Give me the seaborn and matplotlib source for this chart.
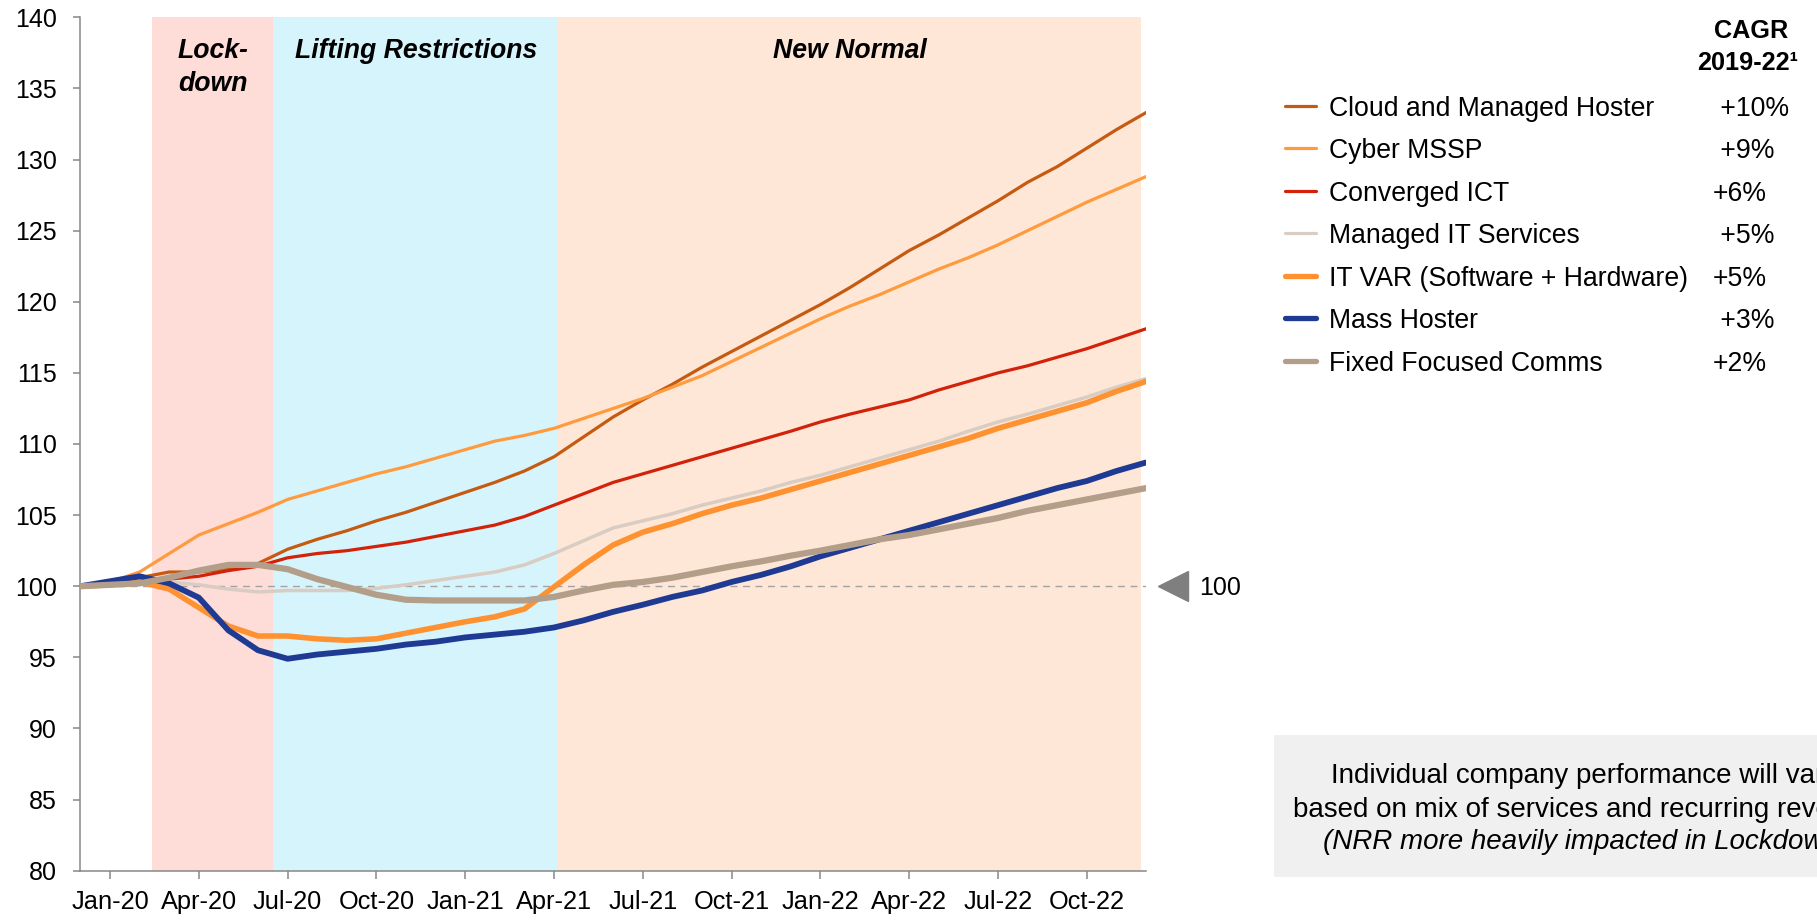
import matplotlib
matplotlib.use("Agg")
import matplotlib.pyplot as plt
import numpy as np
import pandas as pd
import seaborn as sns
from matplotlib.lines import Line2D
from matplotlib.patches import Rectangle

# ---------------------------------------------------------------- data
# Monthly index (Dec-19 = 0 ... Dec-22 = 36), rebased to 100
month_index = list(range(37))
tick_positions = [1, 4, 7, 10, 13, 16, 19, 22, 25, 28, 31, 34]
tick_labels = ["Jan-20", "Apr-20", "Jul-20", "Oct-20", "Jan-21", "Apr-21",
               "Jul-21", "Oct-21", "Jan-22", "Apr-22", "Jul-22", "Oct-22"]
y_ticks = [80, 85, 90, 95, 100, 105, 110, 115, 120, 125, 130, 135, 140]

series_names = ["Cloud and Managed Hoster", "Cyber MSSP", "Converged ICT",
                "Managed IT Services", "IT VAR (Software + Hardware)",
                "Mass Hoster", "Fixed Focused Comms"]
cagr_labels = [" +10%", " +9%", "+6%", " +5%", "+5%", " +3%", "+2%"]

cloud_managed_hoster = [100.0, 100.2, 100.6, 101.0, 101.0, 101.2, 101.6, 102.6, 103.3, 103.9,
                        104.6, 105.2, 105.9, 106.6, 107.3, 108.1, 109.1, 110.5, 111.9, 113.1,
                        114.2, 115.4, 116.5, 117.6, 118.7, 119.8, 121.0, 122.3, 123.6, 124.7,
                        125.9, 127.1, 128.4, 129.5, 130.8, 132.1, 133.3]
cyber_mssp = [100.0, 100.3, 101.0, 102.3, 103.6, 104.4, 105.2, 106.1, 106.7, 107.3,
              107.9, 108.4, 109.0, 109.6, 110.2, 110.6, 111.1, 111.8, 112.5, 113.2,
              114.0, 114.8, 115.8, 116.8, 117.8, 118.8, 119.7, 120.5, 121.4, 122.3,
              123.1, 124.0, 125.0, 126.0, 127.0, 127.9, 128.8]
converged_ict = [100.0, 100.1, 100.3, 100.5, 100.7, 101.1, 101.4, 102.0, 102.3, 102.5,
                 102.8, 103.1, 103.5, 103.9, 104.3, 104.9, 105.7, 106.5, 107.3, 107.9,
                 108.5, 109.1, 109.7, 110.3, 110.9, 111.55, 112.1, 112.6, 113.1, 113.8,
                 114.4, 115.0, 115.5, 116.1, 116.7, 117.4, 118.1]
managed_it_services = [100.0, 100.1, 100.2, 100.3, 100.1, 99.8, 99.6, 99.7, 99.7, 99.7,
                       99.85, 100.1, 100.4, 100.7, 101.0, 101.5, 102.3, 103.2, 104.1, 104.6,
                       105.1, 105.7, 106.2, 106.7, 107.3, 107.8, 108.4, 109.0, 109.6, 110.2,
                       110.9, 111.55, 112.1, 112.7, 113.3, 114.0, 114.6]
it_var = [100.0, 100.1, 100.3, 99.8, 98.5, 97.2, 96.5, 96.5, 96.3, 96.2,
          96.3, 96.7, 97.1, 97.5, 97.85, 98.4, 99.95, 101.5, 102.9, 103.8,
          104.4, 105.1, 105.7, 106.2, 106.8, 107.4, 108.0, 108.6, 109.2, 109.8,
          110.4, 111.1, 111.7, 112.3, 112.9, 113.7, 114.4]
mass_hoster = [100.0, 100.35, 100.7, 100.2, 99.2, 96.9, 95.5, 94.9, 95.2, 95.4,
               95.6, 95.9, 96.1, 96.4, 96.6, 96.8, 97.1, 97.6, 98.2, 98.7,
               99.25, 99.7, 100.3, 100.8, 101.4, 102.1, 102.7, 103.3, 103.9, 104.5,
               105.1, 105.7, 106.3, 106.9, 107.4, 108.1, 108.7]
fixed_focused_comms = [100.0, 100.1, 100.2, 100.6, 101.1, 101.5, 101.5, 101.2, 100.5, 99.95,
                       99.4, 99.05, 99.0, 99.0, 99.0, 99.0, 99.25, 99.7, 100.1, 100.3,
                       100.6, 101.0, 101.4, 101.75, 102.15, 102.5, 102.9, 103.3, 103.6, 104.0,
                       104.4, 104.8, 105.3, 105.7, 106.1, 106.5, 106.9]

series_values = [cloud_managed_hoster, cyber_mssp, converged_ict, managed_it_services,
                 it_var, mass_hoster, fixed_focused_comms]

# COVID phases (month-index spans)
phases = [("Lockdown", 2.43, 6.52, "#FEDCD8"),
          ("Lifting Restrictions", 6.52, 16.15, "#D6F4FC"),
          ("New Normal", 16.15, 35.82, "#FEE7D6")]

# ---------------------------------------------------------------- style
colors = ["#C55A11", "#FF9B3E", "#D2220A", "#D9CCC2", "#FF9230", "#1F3A93", "#B39E89"]
widths = [2.3, 2.3, 2.3, 2.5, 4.0, 4.2, 4.5]

df = pd.DataFrame({
    "month": np.tile(month_index, len(series_names)),
    "value": np.concatenate(series_values),
    "series": np.repeat(series_names, len(month_index)),
})

sns.set_style("ticks")
plt.rcParams["font.family"] = ["Liberation Sans", "DejaVu Sans"]
plt.rcParams["text.color"] = "black"

W, H = 1817, 921
fig = plt.figure(figsize=(W / 100, H / 100), dpi=100)
fig.patch.set_facecolor("white")

ax_left, ax_right, ax_top, ax_bottom = 80.4, 1146.0, 17.3, 870.7
ax = fig.add_axes([ax_left / W, 1 - ax_bottom / H,
                   (ax_right - ax_left) / W, (ax_bottom - ax_top) / H])
ax.set_facecolor("white")

for name, x0, x1, c in phases:
    ax.axvspan(x0, x1, color=c, lw=0, zorder=0)

ax.axhline(100, color="#A3A3A3", lw=1.0, ls=(0, (5, 4)), zorder=1.5)

for name, c, lw in zip(series_names, colors, widths):
    sns.lineplot(data=df[df["series"] == name], x="month", y="value", ax=ax,
                 color=c, linewidth=lw, legend=False, solid_capstyle="round",
                 solid_joinstyle="round", zorder=3)

ax.set_xlim(0, 36)
ax.set_ylim(80, 140)
ax.set_xlabel("")
ax.set_ylabel("")
ax.set_xticks(tick_positions)
ax.set_xticklabels(tick_labels)
ax.set_yticks(y_ticks)
ax.set_yticklabels([str(v) for v in y_ticks])

for side in ["top", "right"]:
    ax.spines[side].set_visible(False)
for side in ["left", "bottom"]:
    ax.spines[side].set_color("#878787")
    ax.spines[side].set_linewidth(1.1)
ax.tick_params(axis="y", length=5, width=1.1, color="#878787", pad=12,
               labelsize=18, labelcolor="black")
ax.tick_params(axis="x", length=6, width=1.1, color="#878787", pad=8,
               labelsize=18.3, labelcolor="black")

# phase titles
lab_kw = dict(ha="center", va="baseline", fontsize=19.2, fontweight="bold",
              fontstyle="italic", zorder=4)
lock_c = (phases[0][1] + phases[0][2]) / 2
ax.text(lock_c, 137.15, "Lock-", **lab_kw)
ax.text(lock_c, 134.85, "down", **lab_kw)
ax.text((phases[1][1] + phases[1][2]) / 2, 137.15, "Lifting Restrictions", **lab_kw)
ax.text((phases[2][1] + phases[2][2]) / 2, 137.15, "New Normal", **lab_kw)

# index-100 marker on the right
ax.plot([36.9], [100], marker="<", ms=21, color="#7F7F7F", ls="none", clip_on=False)
ax.annotate("100", xy=(36.9, 100), xytext=(26, -9), textcoords="offset pixels",
            ha="left", va="baseline", fontsize=18, annotation_clip=False)

# legend with CAGR column
row0, row_step = 105.5, 42.55
for k, (name, c, lw, cagr) in enumerate(zip(series_names, colors, widths, cagr_labels)):
    yc = row0 + k * row_step
    hw = 2.3 if lw < 3 else 3.8
    fig.add_artist(Line2D([1285 / W, 1316 / W], [1 - yc / H, 1 - yc / H],
                          color=c, lw=hw, solid_capstyle="round"))
    fig.text(1329 / W, 1 - (yc + 10) / H, name, ha="left", va="baseline", fontsize=19.2)
    fig.text(1713 / W, 1 - (yc + 10) / H, cagr, ha="left", va="baseline", fontsize=19.2)

fig.text(1751 / W, 1 - 38.5 / H, "CAGR", ha="center", va="baseline",
         fontsize=18.2, fontweight="bold")
fig.text(1748 / W, 1 - 69.5 / H, "2019-22\u00b9", ha="center", va="baseline",
         fontsize=18.2, fontweight="bold")

# note box
fig.add_artist(Rectangle((1274 / W, 1 - 877 / H), (W - 1274 + 20) / W, 142 / H,
                         transform=fig.transFigure, color="#F0F0F0", lw=0, zorder=0))
note_x = 1585 / W
fig.text(note_x, 1 - 783.3 / H, "Individual company performance will vary",
         ha="center", va="baseline", fontsize=20)
fig.text(note_x, 1 - 816.7 / H, "based on mix of services and recurring revenue",
         ha="center", va="baseline", fontsize=20)
fig.text(note_x, 1 - 849.0 / H, "(NRR more heavily impacted in Lockdown)",
         ha="center", va="baseline", fontsize=20, fontstyle="italic")

fig.savefig("out.png", dpi=100, facecolor="white")
